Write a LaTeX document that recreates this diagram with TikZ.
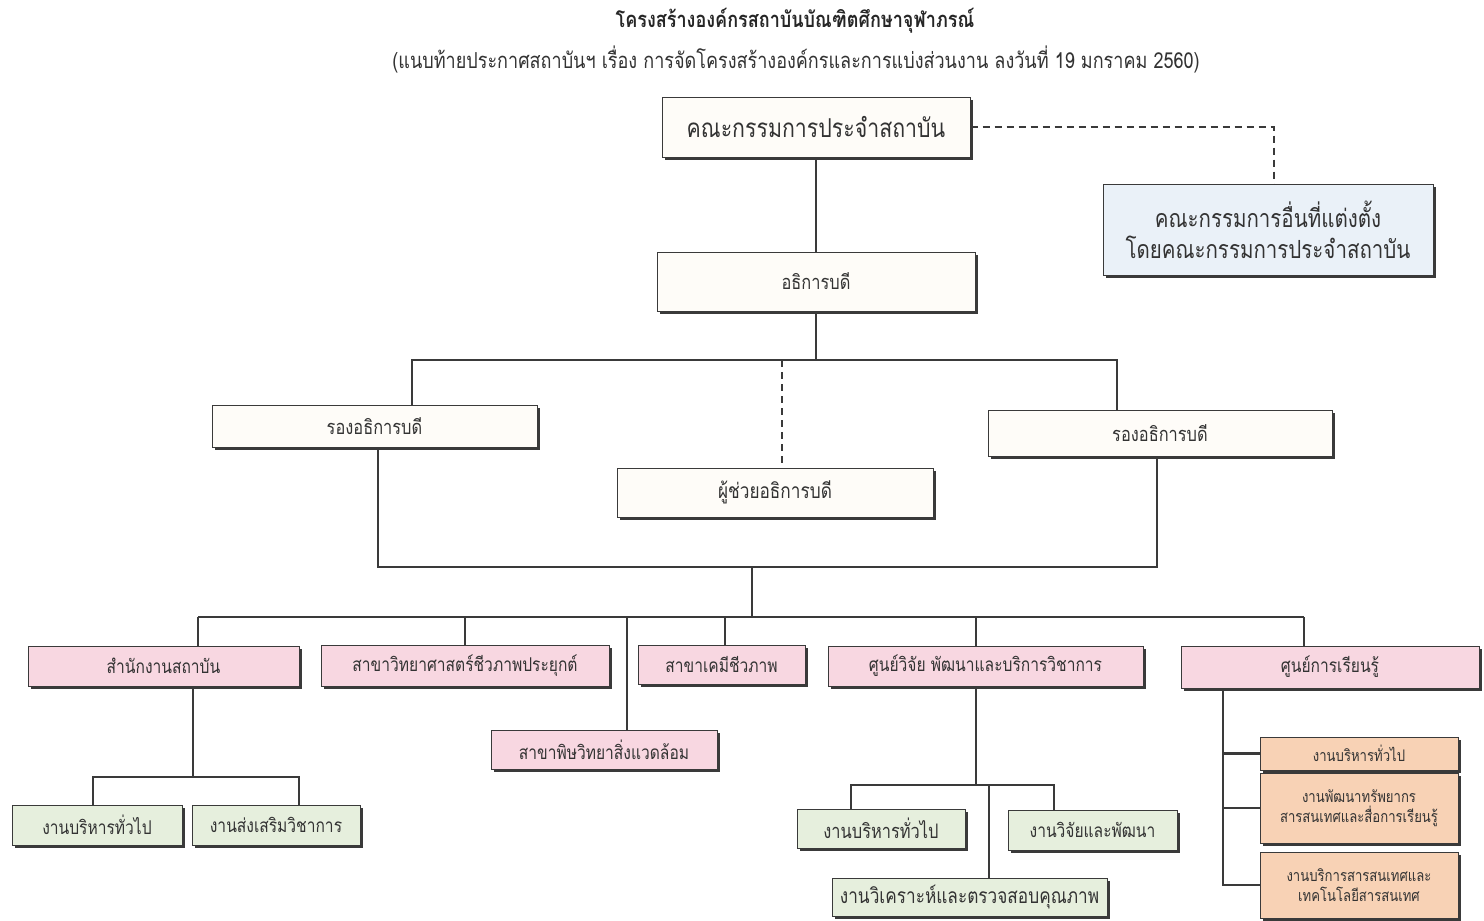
\documentclass[tikz,border=0pt]{standalone}
\usepackage{fontspec}
\newfontfamily\thai[Script=Thai,FakeStretch=0.82]{Loma}
\usetikzlibrary{shadows}
\definecolor{linegray}{HTML}{3A3A3A}
\definecolor{textgray}{HTML}{333333}
\definecolor{topfill}{HTML}{FEFCF8}
\definecolor{bluefill}{HTML}{EAF1F8}
\definecolor{pinkfill}{HTML}{F8D7E1}
\definecolor{greenfill}{HTML}{E6EFDD}
\definecolor{orangefill}{HTML}{F8D2B5}
\newcommand{\fs}[1]{\fontsize{#1}{\the\dimexpr#1pt*5/4\relax}\selectfont}
\tikzset{
  orgbox/.style={draw=linegray, line width=1pt, inner sep=0pt, align=center,
    text=textgray, drop shadow={shadow xshift=3pt, shadow yshift=-3pt, fill=linegray, opacity=1}},
  topbox/.style={orgbox, fill=topfill, font=\thai\fs{20}},
  bluebox/.style={orgbox, fill=bluefill, font=\thai\fs{25}},
  pinkbox/.style={orgbox, fill=pinkfill, font=\thai\fs{19}},
  greenbox/.style={orgbox, fill=greenfill, font=\thai\fs{19}},
  orangebox/.style={orgbox, fill=orangefill, font=\thai\fs{16}},
  conn/.style={draw=linegray, line width=2.2pt},
  dashline/.style={draw=linegray, line width=1.5pt, dash pattern=on 7pt off 5pt}
}
\begin{document}
\begin{tikzpicture}[x=1pt,y=-1pt]
\fill[white] (0,0) rectangle (1484,921);
\useasboundingbox (0,0) rectangle (1484,921);

\node[font=\thai\bfseries\fs{22}, text=black!85] (title) at (795,21) {โครงสร้างองค์กรสถาบันบัณฑิตศึกษาจุฬาภรณ์};
\node[font=\thai\fs{22}, text=textgray] (subtitle) at (796,60) {(แนบท้ายประกาศสถาบันฯ เรื่อง การจัดโครงสร้างองค์กรและการแบ่งส่วนงาน ลงวันที่ 19 มกราคม 2560)};

\node[topbox, font=\thai\fs{26}, minimum width=308pt, minimum height=60pt] (board) at (816,127) {คณะกรรมการประจำสถาบัน};
\node[bluebox, minimum width=330pt, minimum height=91pt] (other) at (1268,229.5) {คณะกรรมการอื่นที่แต่งตั้ง\\โดยคณะกรรมการประจำสถาบัน};
\node[topbox, minimum width=318pt, minimum height=59pt] (pres) at (816,281.5) {อธิการบดี};
\node[topbox, minimum width=325pt, minimum height=42pt] (vpl) at (374.5,426) {รองอธิการบดี};
\node[topbox, minimum width=344pt, minimum height=46pt] (vpr) at (1160,433) {รองอธิการบดี};
\node[topbox, font=\thai\fs{21}, minimum width=316pt, minimum height=49pt] (asst) at (775,492.5) {ผู้ช่วยอธิการบดี};

\node[pinkbox, minimum width=271pt, minimum height=40pt] (office) at (163.5,666) {สำนักงานสถาบัน};
\node[pinkbox, minimum width=288pt, minimum height=41pt] (appbio) at (465,665.5) {สาขาวิทยาศาสตร์ชีวภาพประยุกต์};
\node[pinkbox, minimum width=167pt, minimum height=39pt] (chem) at (721.5,664.5) {สาขาเคมีชีวภาพ};
\node[pinkbox, minimum width=226pt, minimum height=39pt] (tox) at (604,749.5) {สาขาพิษวิทยาสิ่งแวดล้อม};
\node[pinkbox, minimum width=315pt, minimum height=40pt] (research) at (985.5,666) {ศูนย์วิจัย พัฒนาและบริการวิชาการ};
\node[pinkbox, minimum width=298pt, minimum height=42pt] (learn) at (1330,667) {ศูนย์การเรียนรู้};

\node[greenbox, minimum width=170pt, minimum height=40pt] (ogen) at (97,825) {งานบริหารทั่วไป};
\node[greenbox, minimum width=168pt, minimum height=40pt] (oacad) at (276,825) {งานส่งเสริมวิชาการ};
\node[greenbox, font=\thai\fs{20}, minimum width=168pt, minimum height=39pt] (rgen) at (881,828.5) {งานบริหารทั่วไป};
\node[greenbox, minimum width=169pt, minimum height=40pt] (rdev) at (1092.5,830) {งานวิจัยและพัฒนา};
\node[greenbox, font=\thai\fs{21}, minimum width=275pt, minimum height=38pt] (rqa) at (969.5,897) {งานวิเคราะห์และตรวจสอบคุณภาพ};

\node[orangebox, minimum width=198pt, minimum height=33pt] (lgen) at (1359,753.5) {งานบริหารทั่วไป};
\node[orangebox, minimum width=198pt, minimum height=70pt] (lres) at (1359,808) {งานพัฒนาทรัพยากร\\สารสนเทศและสื่อการเรียนรู้};
\node[orangebox, minimum width=198pt, minimum height=66pt] (lits) at (1359,885) {งานบริการสารสนเทศและ\\เทคโนโลยีสารสนเทศ};

\coordinate (bus1) at (0,360);
\coordinate (hub) at (752,567);
\coordinate (bus3) at (0,617);
\coordinate (bus4) at (0,777);
\coordinate (bus5) at (0,785);

\draw[conn] (board.south) -- (pres.north);
\draw[dashline] (board.east) -| ([xshift=6pt]other.north);
\draw[conn] (pres.south) -- (pres.south |- bus1);
\draw[conn] ([xshift=37.5pt]vpl.north) -- ([xshift=37.5pt]vpl.north |- bus1) -- ([xshift=-43pt]vpr.north |- bus1) -- ([xshift=-43pt]vpr.north);
\draw[dashline] ([xshift=7pt]asst.north |- bus1) -- ([xshift=7pt]asst.north);
\draw[conn] ([xshift=3.5pt]vpl.south) -- ([xshift=3.5pt]vpl.south |- hub) -- ([xshift=-3pt]vpr.south |- hub) -- ([xshift=-3pt]vpr.south);
\draw[conn] (hub) -- (hub |- bus3);
\draw[conn] ([xshift=34.5pt]office.north |- bus3) -- ([xshift=-26pt]learn.north |- bus3);
\foreach \n/\s in {office/34.5,appbio/0,chem/3.5,tox/23,research/-9.5,learn/-26}{
\draw[conn] ([xshift=\s pt]\n.north |- bus3) -- ([xshift=\s pt]\n.north);
}
\draw[conn] ([xshift=29.5pt]office.south) -- ([xshift=29.5pt]office.south |- bus4);
\draw[conn] ([xshift=-4pt]ogen.north) -- ([xshift=-4pt]ogen.north |- bus4) -- ([xshift=23pt]oacad.north |- bus4) -- ([xshift=23pt]oacad.north);
\draw[conn] ([xshift=-9.5pt]research.south) -- ([xshift=-9.5pt]research.south |- bus5);
\draw[conn] ([xshift=-30pt]rgen.north) -- ([xshift=-30pt]rgen.north |- bus5) -- ([xshift=-38.5pt]rdev.north |- bus5) -- ([xshift=-38.5pt]rdev.north);
\draw[conn] ([xshift=19.5pt]rqa.north |- bus5) -- ([xshift=19.5pt]rqa.north);
\coordinate (spine) at ([xshift=-107pt]learn.south);
\draw[conn] (spine) |- (lits.west);
\foreach \n in {lgen,lres}{
\draw[conn] (\n.west -| spine) -- (\n.west);
}
\end{tikzpicture}
\end{document}
